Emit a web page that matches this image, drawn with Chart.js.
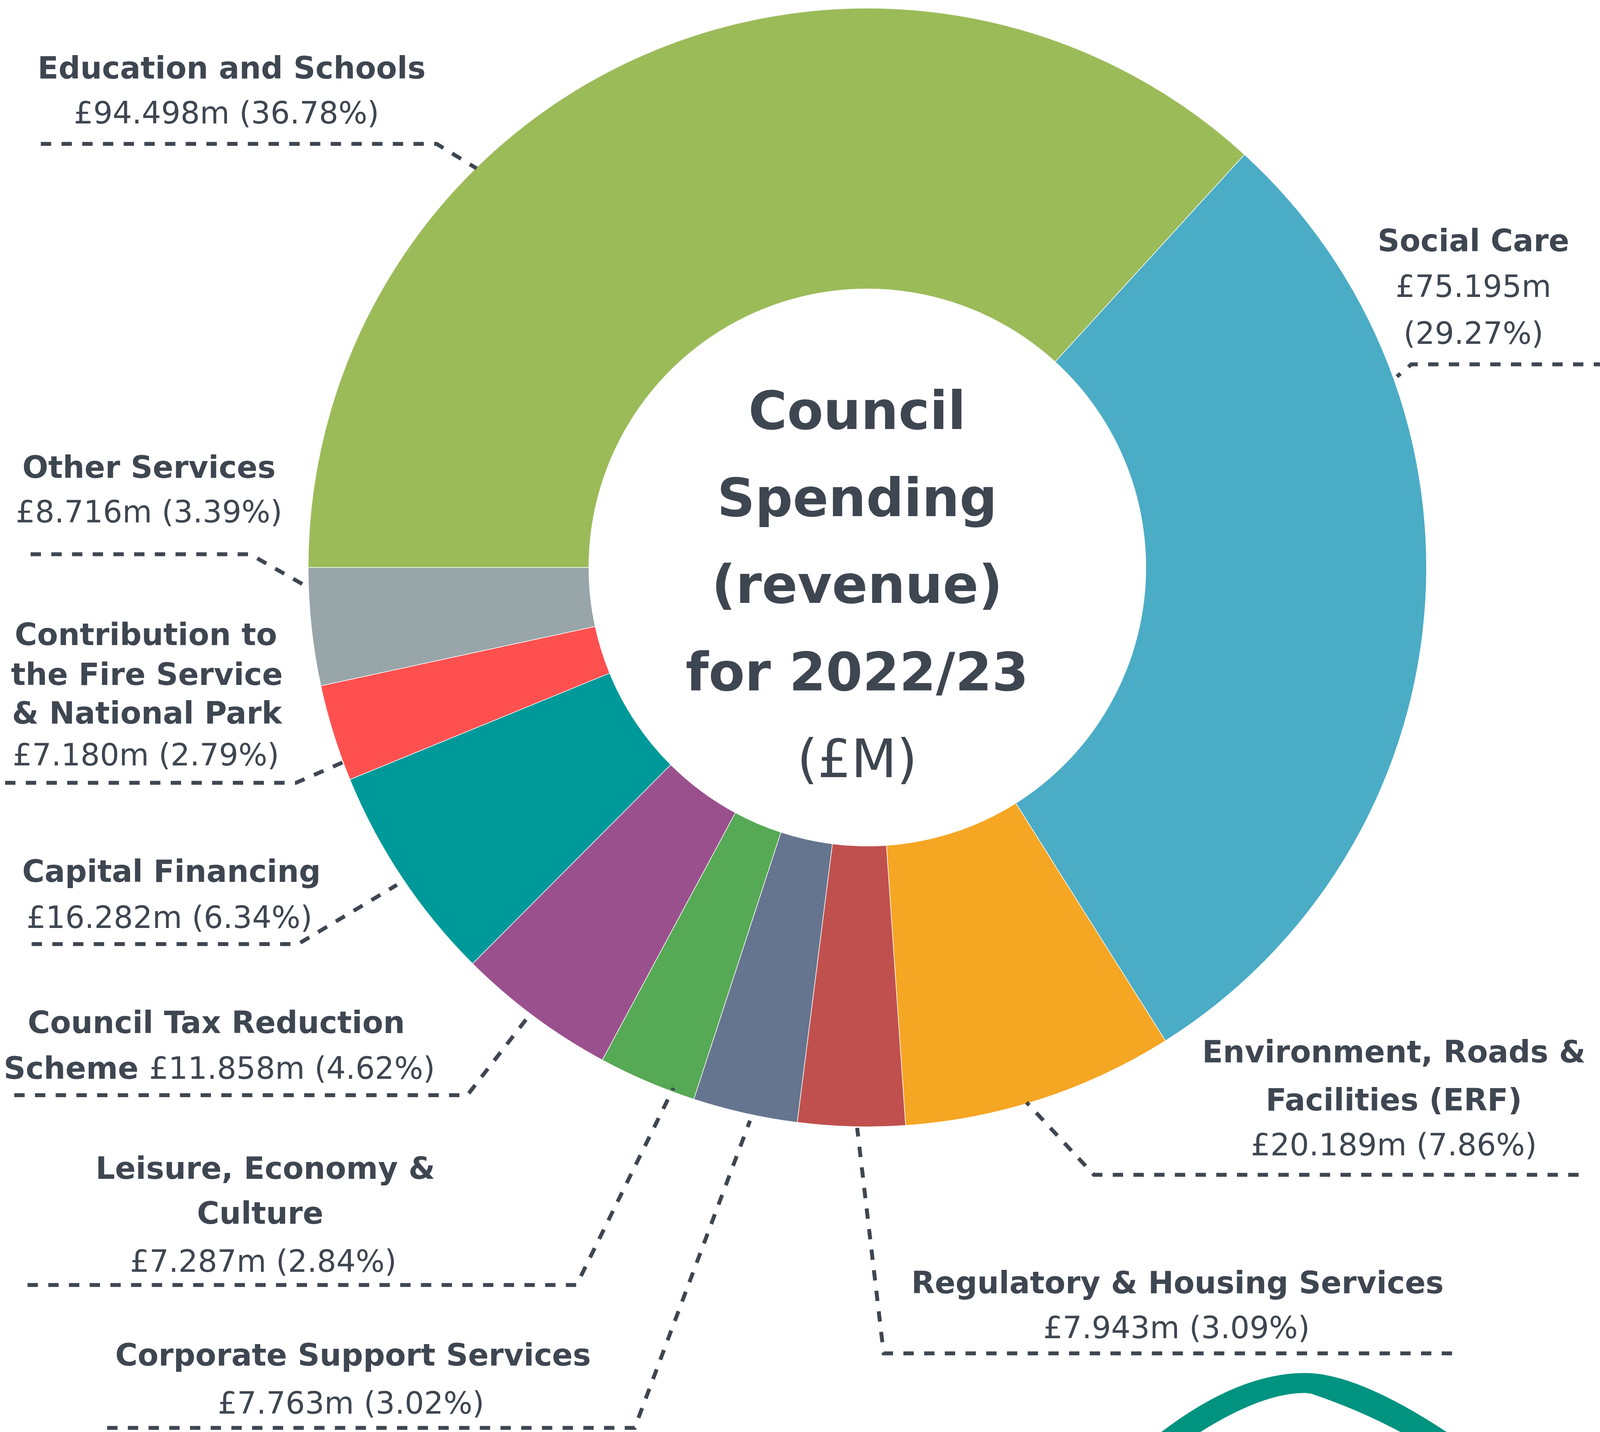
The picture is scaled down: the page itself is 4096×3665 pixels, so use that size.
<!DOCTYPE html>
<html><head><meta charset="utf-8">
<script src="https://cdn.jsdelivr.net/npm/chart.js@4.4.0/dist/chart.umd.min.js"></script>
<style>html,body{margin:0;padding:0;background:#fff;overflow:hidden}canvas{display:block}</style>
</head><body>
<canvas id="c" width="4096" height="3665"></canvas>
<script>
// ---- data ----
const categories = ["Education and Schools","Social Care","Environment, Roads & Facilities (ERF)","Regulatory & Housing Services","Corporate Support Services","Leisure, Economy & Culture","Council Tax Reduction Scheme","Capital Financing","Contribution to the Fire Service & National Park","Other Services"];
const values = [94.498, 75.195, 20.189, 7.943, 7.763, 7.287, 11.858, 16.282, 7.180, 8.716];
const colors = ["#9BBB59","#4BACC6","#F5A623","#C0504D","#66758F","#56A955","#9B508E","#009999","#FF5050","#98A5A9"];
const centerTitle = ["Council","Spending","(revenue)","for 2022/23"];
const centerUnit = "(£M)";

// ---- layout (reference coords at 1568 px width) ----
const W = 4096, H = 3665, S = W / 1568;
const TEXT = "#3E4651";
const labelLayout = [
  {lines:[["b","Education and Schools",227,77],["r","{amt} ({pct})",222,121]], leader:[[40,141],[428,141],[467,165]]},
  {lines:[["b","Social Care",1444,246],["r","{amt}",1444,291],["r","({pct})",1444,337]], leader:[[1572,357],[1383,357],[1369,369]]},
  {lines:[["b","Environment, Roads &",1366,1041],["b","Facilities (ERF)",1366,1088],["r","{amt} ({pct})",1366,1132]], leader:[[1547,1151],[1072,1151],[1006,1080]]},
  {lines:[["b","Regulatory & Housing Services",1154,1267],["r","{amt} ({pct})",1153,1311]], leader:[[1423,1326],[866,1326],[840,1105]]},
  {lines:[["b","Corporate Support Services",346,1338],["r","{amt} ({pct})",344,1385]], leader:[[105,1399],[622,1399],[735,1098]]},
  {lines:[["b","Leisure, Economy &",260,1155],["b","Culture",255,1199],["r","{amt} ({pct})",258,1246]], leader:[[27,1259],[565,1259],[660,1066]]},
  {lines:[["b","Council Tax Reduction",212,1012],["m",["Scheme ","{amt} ({pct})"],215,1057]], leader:[[14,1073],[458,1073],[517,997]]},
  {lines:[["b","Capital Financing",168,864],["r","{amt} ({pct})",166,909]], leader:[[31,925],[292,925],[389,867]]},
  {lines:[["b","Contribution to",143,632],["b","the Fire Service",144,671],["b","& National Park",144,709],["r","{amt} ({pct})",143,750]], leader:[[5,767],[290,767],[338,746]]},
  {lines:[["b","Other Services",146,468],["r","{amt} ({pct})",146,512]], leader:[[30,543],[245,543],[303,576]]}
];

const total = values.reduce((a,b)=>a+b,0);
function fmt(t,i){
  return t.replace('{amt}','£'+values[i].toFixed(3)+'m').replace('{pct}',(values[i]/total*100).toFixed(2)+'%');
}
const BOLD = 'bold 78px "DejaVu Sans"';
const REG = '78px "DejaVu Sans"';

const labelsPlugin = {
  id:'labels',
  afterDraw(chart){
    const ctx = chart.ctx;
    ctx.save();
    // leaders
    ctx.strokeStyle = TEXT; ctx.lineWidth = 10; ctx.lineCap='butt'; ctx.lineJoin='miter';
    ctx.setLineDash([26.5,26.5]);
    labelLayout.forEach(l=>{
      ctx.beginPath();
      l.leader.forEach((p,k)=>{ const x=p[0]*S, y=p[1]*S; k?ctx.lineTo(x,y):ctx.moveTo(x,y); });
      ctx.stroke();
    });
    ctx.setLineDash([]);
    // texts
    ctx.fillStyle = TEXT; ctx.textBaseline='alphabetic';
    labelLayout.forEach((l,i)=>{
      l.lines.forEach(ln=>{
        const [kind, txt, x, y] = ln;
        if(kind==='m'){
          ctx.font = BOLD; const a = fmt(txt[0],i); const wa = ctx.measureText(a).width;
          ctx.font = REG; const b = fmt(txt[1],i); const wb = ctx.measureText(b).width;
          const x0 = x*S - (wa+wb)/2;
          ctx.textAlign='left';
          ctx.font = BOLD; ctx.fillText(a, x0, y*S);
          ctx.font = REG; ctx.fillText(b, x0+wa, y*S);
        } else {
          ctx.font = kind==='b'?BOLD:REG; ctx.textAlign='center';
          ctx.fillText(fmt(txt,i), x*S, y*S);
        }
      });
    });
    // centre title
    const cx = 840*S;
    ctx.textAlign='center';
    ctx.font = 'bold 135px "DejaVu Sans"';
    const base = [1098,1321,1543,1767];
    centerTitle.forEach((t,k)=>ctx.fillText(t, cx, base[k]));
    ctx.font = '135px "DejaVu Sans"';
    ctx.fillText(centerUnit, cx, 1989);
    // partial logo arc at bottom right
    ctx.fillStyle = '#009380';
    ctx.beginPath();
    ctx.moveTo(2964, 3672);
    ctx.quadraticCurveTo(3167, 3514, 3341, 3514);
    ctx.quadraticCurveTo(3477, 3514, 3714, 3672);
    ctx.lineTo(3598, 3672);
    ctx.quadraticCurveTo(3487, 3611, 3357, 3567);
    ctx.lineTo(3341, 3565);
    ctx.quadraticCurveTo(3228, 3565, 3062, 3672);
    ctx.closePath();
    ctx.fill();
    ctx.restore();
  }
};

const R = 548*S, bw = 1.5;
const cxC = 850*S, cyC = 556*S, side = 2*R + bw;
new Chart(document.getElementById('c'), {
  type:'doughnut',
  data:{ labels: categories, datasets:[{ data: values, backgroundColor: colors, borderColor:'#ffffff', borderWidth: bw, hoverOffset:0, offset:0 }]},
  options:{
    responsive:false, animation:false, devicePixelRatio:1,
    rotation:270, cutout:'49.8%',
    layout:{ padding:{ left: cxC - side/2, top: cyC - side/2, right: W - cxC - side/2, bottom: H - cyC - side/2 } },
    plugins:{ legend:{display:false}, tooltip:{enabled:false} },
    events:[]
  },
  plugins:[labelsPlugin]
});
</script>
</body></html>
